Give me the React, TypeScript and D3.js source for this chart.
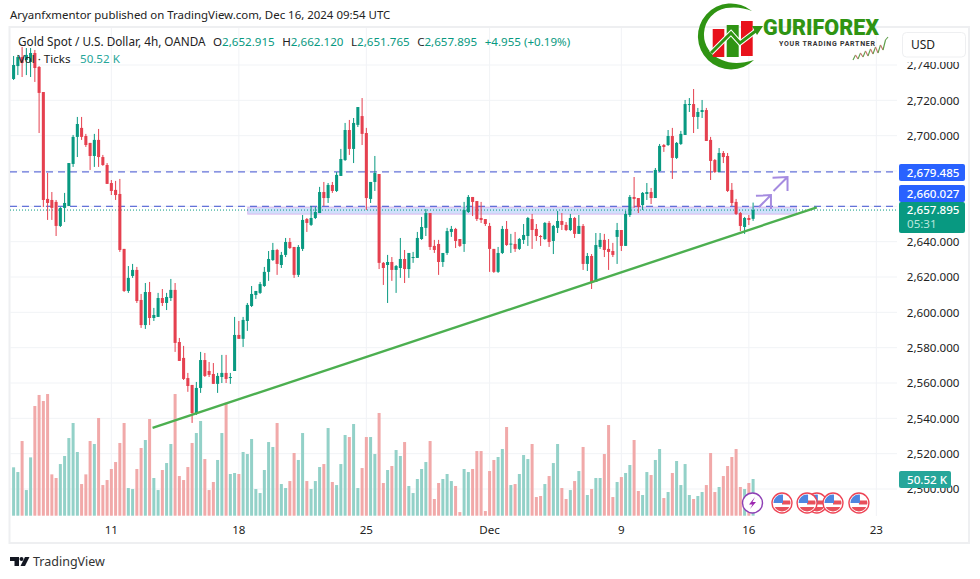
import * as d3 from "d3"

const opens = [
  2732.1,2739.4,2744.5,2742.8,2741.7,2746.8,2738.9,2724.7,2664.2,2663.6,
  2662.5,2648.9,2659.1,2660.2,2684,2699.3,2704.4,2699.8,2695.9,2688.5,
  2697.6,2687.9,2683.4,2673.2,2669.3,2667,2635.9,2612.1,2620.6,2624,
  2607,2592.8,2611.5,2596.8,2597.4,2608.1,2605.3,2608.1,2612.7,2583.2,
  2574.2,2562.8,2558.9,2543,2557.2,2573,2566.8,2565.1,2559.5,2563.4,
  2565.7,2562.8,2566.8,2587.2,2585,2595.1,2603.6,2609.8,2611,2614.9,
  2622.9,2629.6,2635.3,2626.8,2632.5,2639.8,2637,2621.2,2635.9,2652.8,
  2649.5,2653.4,2656.2,2668.1,2664.7,2672.1,2668.7,2677.2,2686.2,2703.2,
  2692.5,2706.1,2711.1,2701.5,2664.2,2673.8,2678.3,2628,2626.8,2628.5,
  2624,2625.1,2630.2,2624.5,2630.8,2630.8,2641.5,2647.8,2656.2,2637.6,
  2638.7,2628.5,2633.6,2645.5,2647.2,2641.5,2638.7,2656.8,2665.3,2663,
  2653.4,2652.8,2648.9,2635.9,2622.9,2633.6,2647.2,2638.5,2638.7,2635.9,
  2641,2643.2,2652.8,2647.2,2643.2,2641.5,2650.6,2640.4,2647.8,2651.7,
  2649.5,2646.6,2653.4,2644.4,2648.9,2627.4,2631.9,2617.2,2637,2641,
  2635.9,2634.7,2642.7,2646.6,2637.6,2655.1,2665.3,2664.7,2660.7,2667,
  2668.1,2664.7,2680,2694.7,2694.7,2699.8,2687.4,2695.3,2700.4,2717.4,
  2717.9,2710.6,2713.4,2714.5,2697.6,2686.2,2679.4,2690.2,2688.5,2669.3,
  2662.5,2656.2,2648.3,2653.4,2652.915,
]
const highs = [
  2745.1,2745.7,2750.2,2749.6,2749.6,2748.5,2739.4,2724.7,2678.9,2668.1,
  2663.6,2659.6,2667.6,2684.5,2700.4,2710.6,2710.6,2701,2695.9,2701,
  2703.8,2689.1,2684.5,2674.9,2674.4,2675.5,2635.9,2626.2,2627.4,2625.7,
  2610.4,2616.6,2617.2,2602.5,2611,2613.2,2611,2618.9,2616.6,2585.5,
  2581,2565.7,2558.9,2560.6,2577.6,2577,2571.9,2571.3,2565.7,2575.9,
  2575.9,2565.7,2597.4,2595.1,2597.4,2605.3,2614.9,2612.1,2617.2,2625.7,
  2634.7,2639.3,2635.9,2634.2,2642.1,2642.1,2637,2638.1,2655.1,2653.4,
  2660.2,2659.6,2671,2673.8,2673.2,2673.8,2679.4,2692.5,2707.2,2708.9,
  2710,2716.2,2721.3,2704.4,2673.8,2688.5,2678.3,2628.5,2632.5,2631.3,
  2626.8,2642.1,2635.3,2633.6,2634.2,2645.5,2654,2658.5,2656.2,2641,
  2641,2633.6,2647.8,2648.9,2647.8,2641.5,2662.5,2666.4,2665.3,2663,
  2662.5,2652.8,2650.6,2635.9,2637,2648.9,2651.7,2644.4,2645.5,2642.1,
  2650,2654,2655.7,2650,2643.8,2651.1,2651.7,2649.5,2657.4,2656.2,
  2651.1,2655.7,2654,2655.1,2650,2633.6,2633,2644.9,2644.9,2644.4,
  2641.5,2639.3,2650.6,2646.6,2657.4,2666.4,2676.6,2664.7,2668.1,2673.2,
  2670.4,2681.7,2695.3,2695.3,2703.2,2704.4,2696.4,2702.7,2720.2,2721.3,
  2726.4,2715.7,2720.2,2715.7,2699.3,2686.8,2693,2691.3,2690.2,2673.2,
  2664.2,2656.8,2654,2655.1,2662.12,
]
const lows = [
  2731.5,2734.3,2733.2,2734.3,2733.2,2730.4,2701.5,2659.6,2652.3,2652.3,
  2643.2,2648.3,2651.1,2660.2,2682.3,2687.9,2697.6,2693.6,2680.6,2682.3,
  2682.3,2682.9,2672.7,2666.4,2663.6,2634.2,2611.5,2611,2619.5,2605.3,
  2591.2,2590.6,2592.8,2595.1,2597.4,2603.6,2601.3,2606.4,2577.6,2572.5,
  2561.7,2555,2537.4,2541.9,2554.4,2563.4,2563.4,2559.5,2554.4,2560,
  2560,2559.5,2566.8,2585,2580.4,2589.5,2603,2607.6,2610.4,2614.4,
  2617.8,2629.1,2621.2,2625.1,2631.3,2635.9,2619.5,2620,2634.7,2645.5,
  2648.9,2652.8,2656.2,2660.2,2661.9,2667.6,2668.1,2677.2,2685.7,2689.1,
  2684.5,2704.9,2694.7,2657.9,2661.9,2668.7,2624.5,2615.5,2605.3,2617.8,
  2611,2619.5,2616.6,2619.5,2628,2630.8,2641,2643.2,2635.3,2633.6,
  2621.2,2625.7,2632.5,2642.7,2636.4,2637,2634.2,2656.2,2654.5,2651.7,
  2650.6,2648.9,2622.9,2622.3,2622.3,2633,2637.6,2633.6,2634.2,2635.3,
  2638.7,2637.6,2635.9,2640.4,2637.6,2641,2637,2633,2644.9,2646.6,
  2646,2646,2642.1,2644.4,2624,2623.4,2613.2,2617.2,2635.9,2631.3,
  2624,2631.3,2627.4,2634.7,2637.6,2654,2659.1,2656.2,2657.9,2663.6,
  2661.3,2664.7,2679.4,2690.8,2694.2,2675.5,2686.8,2694.7,2700.4,2713.4,
  2701.5,2703.8,2710,2697,2674.9,2678.9,2679.4,2684.5,2668.1,2660.2,
  2655.1,2646,2644.4,2649.4,2651.765,
]
const closes = [
  2740,2744.5,2741.1,2745.7,2746.8,2738.3,2724.2,2663.6,2661.9,2659.1,
  2648.9,2659.1,2661.9,2684.5,2699.3,2706.6,2699.3,2694.7,2688.5,2697.6,
  2687.9,2683.4,2672.7,2668.7,2666.4,2635.3,2612.1,2619.5,2624,2606.4,
  2592.8,2611.5,2596.8,2598.5,2608.1,2605.3,2608.7,2612.7,2582.7,2572.5,
  2562.3,2558.3,2543,2557.2,2573,2564,2564.6,2559.5,2564,2565.7,
  2562.3,2563.4,2587.2,2585,2595.7,2604.2,2610.4,2612.1,2616,2622.9,
  2630.2,2635.3,2627.4,2632.5,2639.8,2636.4,2621.2,2637,2652.3,2650.6,
  2653.4,2656.8,2668.1,2664.7,2672.1,2668.7,2677.8,2686.8,2703.2,2692.5,
  2707.2,2716.2,2701,2664.7,2673.8,2678.9,2628,2625.1,2628.5,2624,
  2626.2,2630.2,2624.5,2633.6,2631.3,2642.1,2648.3,2656.2,2637,2635.3,
  2628.5,2633.6,2646,2647.2,2640.4,2637.6,2657.9,2665.3,2662.5,2652.8,
  2652.3,2650,2635.9,2622.9,2633.6,2647.2,2638.1,2638.9,2635.9,2641.5,
  2643.8,2653.4,2646.6,2643.2,2642.7,2650.6,2639.8,2648.9,2651.7,2649.5,
  2646.6,2653.4,2644.4,2648.9,2627.4,2631.9,2616.6,2638.1,2641,2635.3,
  2634.2,2632.5,2646.6,2637.6,2655.7,2665.3,2664.2,2659.6,2667.6,2668.1,
  2664.7,2680.6,2694.2,2693.6,2699.8,2687.4,2695.9,2701,2717.9,2717.9,
  2710.6,2713.4,2714.5,2697,2685.7,2679.4,2690.2,2687.9,2668.7,2661.9,
  2655.7,2648.9,2653.4,2652.3,2657.895,
]
// volume in thousands of ticks
const volumes = [
  66.6,60.1,102.8,35.3,80.3,151,166.2,157.9,167.5,56.9,
  51.9,71.1,82.2,106.9,127.6,87.7,43.6,56.9,102.8,98.7,
  134.5,42.2,49.1,64.3,73.9,100.1,127.6,38.1,36.7,64.3,
  93.2,104.2,133.1,51.9,35.3,62.9,72.5,98.7,167.5,54.6,
  49.1,67,100.1,113.8,130.4,78,35.3,46.4,76.7,113.8,
  155.6,57.4,58.8,57.4,87.7,84.9,105.6,36.7,31.2,62.9,
  101.4,94.6,127.6,43.6,38.1,47.7,86.3,76.7,113.8,47.7,
  36.7,47.7,67,71.1,120.7,46.4,42.2,71.1,111.1,108.3,
  126.2,38.1,65.6,108.3,108.3,84.9,141.4,45,62.9,68.4,
  90.4,82.2,101.4,40.9,31.2,50.5,64.3,73.9,102.8,23,
  45,50.5,57.4,47.7,40.9,5,64.3,60.1,64.3,89,
  89,6.4,61.5,76.7,80.8,91.8,122.1,42.2,43.6,57.4,
  83.5,78,98.7,25.7,27.1,43.6,54.6,72.5,98.7,38.1,
  23,35.3,47.7,61.5,94.6,28.5,36.7,51.9,51.9,84.9,
  124.8,25.7,46.4,53.2,58.8,69.8,104.2,34,28.5,60.1,
  56,76.7,91.8,24.3,32.6,58.8,75.3,42.2,71.1,28.5,
  23,27.1,32.6,42.2,86.3,32.6,39.5,54.6,68.4,80.8,
  91.8,39.5,36.7,45,50.52,
]

const priceTicks = [2740, 2720, 2700, 2680, 2660, 2640, 2620, 2600, 2580, 2560, 2540, 2520, 2500]
// 2680 and 2660 sit fully behind the level badges in the reference
const hiddenPriceLabels = [2680, 2660]
const timeTickBars = [23, 53, 83, 112, 143, 173, 203]
const timeTickLabels = ["11", "18", "25", "Dec", "9", "16", "23"]

const upperLevel = 2679.485
const lowerLevel = 2660.027
const lastPrice = 2657.895
const zoneBars = [55.1, 184.2]
const zonePrices = [2659.5, 2655.6]
const trendBars = [32.7, 189]
const trendPrices = [2534.6, 2659.4]
const arrowOneBars = [175.4, 178.2]
const arrowOnePrices = [2659.6, 2666.4]
const arrowTwoBars = [178.8, 182.1]
const arrowTwoPrices = [2668.7, 2676.6]
const flagBars = [189, 180.8, 186.7, 192.8, 198.9]
const sparkValues = [2, 7, 3, 9, 5, 11, 6, 13, 8, 15, 9, 17, 12, 22, 25]

const FONT = "'Noto Sans', sans-serif"
const UP = "#089981"
const DOWN = "#e5404f"
const UP_VOL = "#93d1c8"
const DOWN_VOL = "#f1a9a9"
const GRID = "#f1f3f6"
const LOGO_GREEN = "#2f9413"

const x = d3.scaleLinear().domain([0, 174]).range([13.6, 753.1])
const y = d3.scaleLinear().domain([2500, 2740]).range([489, 65])
const yVol = d3.scaleLinear().domain([0, 170]).range([515.7, 392.2])
const priceFmt = d3.format(",.3f")

function UsFlag({ cx, id }: { cx: number; id: string }) {
  const cy = 503
  return (
    <g>
      <clipPath id={id}>
        <circle cx={cx} cy={cy} r={8.5} />
      </clipPath>
      <circle cx={cx} cy={cy} r={10} fill="#fff" stroke="#ee4455" strokeWidth={1.4} />
      <g clipPath={`url(#${id})`}>
        <rect x={cx - 9} y={cy - 9} width={18} height={18} fill="#fff" />
        <rect x={cx} y={cy - 2.5} width={9} height={4} fill="#e8505b" />
        <rect x={cx - 9} y={cy + 4} width={18} height={6} fill="#e8505b" />
        <rect x={cx - 9} y={cy - 9} width={10} height={9} fill="#4f86e0" />
      </g>
    </g>
  )
}

function Logo() {
  return (
    <g>
      <path
        d="M752,11 A33,33 0 1 0 754,60 Q735,66 722,60 A27,27 0 0 1 726,8 Q740,6 752,11 Z"
        fill={LOGO_GREEN}
      />
      <rect x={712.7} y={29} width={11.6} height={28} fill="#e8121b" />
      <rect x={726.7} y={25} width={12} height={32} fill={LOGO_GREEN} />
      <rect x={741} y={21} width={11.7} height={35} fill="#e8121b" />
      <path d="M711,53 L731,33 L740,43 L757,30" fill="none" stroke="#fff" strokeWidth={5} />
      <path d="M711,53 L731,33 L740,43 L757,30" fill="none" stroke={LOGO_GREEN} strokeWidth={3} />
      <path d="M752,26 L763,26 L757,35 Z" fill={LOGO_GREEN} />
      <text
        x={763}
        y={35}
        fontFamily="Roboto, sans-serif"
        fontWeight={900}
        fontSize={22}
        textLength={116}
        lengthAdjust="spacingAndGlyphs"
        fill={LOGO_GREEN}
      >
        GURIFOREX
      </text>
      <text
        x={779}
        y={46}
        fontFamily="Roboto, sans-serif"
        fontWeight={700}
        fontSize={7}
        textLength={96}
        fill="#333"
      >
        YOUR TRADING PARTNER
      </text>
      {sparkValues.slice(1).map((v, i) => (
        <line
          key={i}
          x1={853 + i * 2.5}
          x2={853 + (i + 1) * 2.5}
          y1={62 - sparkValues[i]}
          y2={62 - v}
          stroke={v > sparkValues[i] ? "#5f9e4a" : "#c9706a"}
          strokeWidth={1.1}
        />
      ))}
    </g>
  )
}

function App() {
  const w = x(1) - x(0)
  return (
    <svg
      width={980}
      height={579}
      style={{ position: "absolute", left: 0, top: 0, display: "block", background: "#fff" }}
      fontFamily={FONT}
    >
      {/* pane frame */}
      <rect x={9.5} y={27} width={959.5} height={516} fill="none" stroke="#eeeff1" strokeWidth={2} />

      {/* grid */}
      {priceTicks.map((p) => (
        <line key={p} x1={10} x2={897} y1={y(p)} y2={y(p)} stroke={GRID} />
      ))}
      {timeTickBars.map((b) => (
        <line key={b} x1={x(b)} x2={x(b)} y1={28} y2={516} stroke={GRID} />
      ))}

      {/* volume */}
      {volumes.map((v, i) => (
        <rect
          key={i}
          x={x(i) - 1.5}
          y={yVol(v)}
          width={3}
          height={yVol(0) - yVol(v)}
          fill={closes[i] >= opens[i] ? UP_VOL : DOWN_VOL}
        />
      ))}

      {/* zone behind the candles */}
      <rect
        x={x(zoneBars[0])}
        y={y(zonePrices[0])}
        width={x(zoneBars[1]) - x(zoneBars[0])}
        height={y(zonePrices[1]) - y(zonePrices[0])}
        fill="#cfe0fb"
        stroke="#dcb8ee"
      />

      {/* levels */}
      <line x1={10} x2={898} y1={y(upperLevel)} y2={y(upperLevel)} stroke="#3d4fd0" strokeDasharray="7 5" />
      <line x1={10} x2={898} y1={y(lowerLevel)} y2={y(lowerLevel)} stroke="#3d4fd0" strokeDasharray="7 5" />
      <line x1={10} x2={898} y1={y(lastPrice)} y2={y(lastPrice)} stroke={UP} strokeDasharray="1 2" />

      {/* candles */}
      {opens.map((o, i) => {
        const c = closes[i]
        const col = c >= o ? UP : DOWN
        const top = y(Math.max(o, c))
        const h = Math.max(y(Math.min(o, c)) - top, 1)
        return (
          <g key={i}>
            <line x1={x(i)} x2={x(i)} y1={y(highs[i])} y2={y(lows[i])} stroke={col} />
            <rect x={x(i) - w / 2 + 0.6} y={top} width={w - 1.2} height={h} fill={col} />
          </g>
        )
      })}

      {/* trend line and arrows */}
      <line
        x1={x(trendBars[0])}
        x2={x(trendBars[1])}
        y1={y(trendPrices[0])}
        y2={y(trendPrices[1])}
        stroke="#4caf50"
        strokeWidth={2.4}
      />
      {[
        [arrowOneBars, arrowOnePrices],
        [arrowTwoBars, arrowTwoPrices],
      ].map(([b, p], i) => {
        const ex = x(b[1])
        const ey = y(p[1])
        return (
          <path
            key={i}
            d={`M${x(b[0])},${y(p[0])} L${ex},${ey} M${ex - 15},${ey + 0.8} L${ex},${ey} L${ex},${ey + 14}`}
            fill="none"
            stroke="#a58be0"
            strokeWidth={2}
          />
        )
      })}

      {/* price axis */}
      {priceTicks
        .filter((p) => !hiddenPriceLabels.includes(p))
        .map((p) => (
          <text key={p} x={959.5} y={y(p) + 4.3} textAnchor="end" fontSize={11.6} fill="#222">
            {priceFmt(p)}
          </text>
        ))}
      <rect x={900} y={28} width={68} height={34} fill="#fff" />
      <rect x={902.5} y={32.5} width={63} height={24.5} rx={4} fill="#fff" stroke="#eeeff1" />
      <text x={911} y={49} fontSize={12} fill="#222">
        USD
      </text>

      {/* badges */}
      <rect x={899} y={164} width={66} height={17} rx={2} fill="#2962ff" />
      <text x={959.5} y={176.6} textAnchor="end" fontSize={11.6} fontWeight={500} fill="#fff">
        {priceFmt(upperLevel)}
      </text>
      <rect x={899} y={185} width={66} height={17} rx={2} fill="#2962ff" />
      <text x={959.5} y={197.6} textAnchor="end" fontSize={11.6} fontWeight={500} fill="#fff">
        {priceFmt(lowerLevel)}
      </text>
      <rect x={899} y={202} width={66} height={31} rx={2} fill={UP} />
      <text x={959.5} y={214.4} textAnchor="end" fontSize={11.6} fontWeight={500} fill="#fff">
        {priceFmt(lastPrice)}
      </text>
      <text x={907} y={228} fontSize={11.6} fill="#b9e6dc">
        05:31
      </text>
      <rect x={899} y={471} width={52} height={17} rx={2} fill="#26a69a" />
      <text x={907} y={483.6} fontSize={11.6} fontWeight={500} fill="#fff">
        50.52 K
      </text>

      {/* time axis */}
      {timeTickBars.map((b, i) => (
        <text key={b} x={x(b)} y={534} textAnchor="middle" fontSize={11.6} fill="#222">
          {timeTickLabels[i]}
        </text>
      ))}

      {/* events */}
      <circle cx={752.5} cy={503} r={10} fill="#fff" stroke="#8e3fb5" strokeWidth={1.4} />
      <path d="M755,497 L749,504.5 L752.5,504.5 L750,509 L756,502 L752.5,502 Z" fill="#9c27b0" />
      {flagBars.map((b, k) => (
        <UsFlag key={k} cx={x(b)} id={`flag-${k}`} />
      ))}

      {/* legend */}
      <text x={10} y={19} fontSize={11.45} fill="#222">
        Aryanfxmentor published on TradingView.com, Dec 16, 2024 09:54 UTC
      </text>
      <text x={18} y={46} fontSize={11.75} fill="#222">
        Gold Spot / U.S. Dollar, 4h, OANDA
      </text>
      <text x={213} y={46} fontSize={11.6} fill="#222">
        O<tspan fill={UP}>2,652.915</tspan>
        <tspan dx={7.5}>H</tspan>
        <tspan fill={UP}>2,662.120</tspan>
        <tspan dx={7.5}>L</tspan>
        <tspan fill={UP}>2,651.765</tspan>
        <tspan dx={7.5}>C</tspan>
        <tspan fill={UP}>2,657.895</tspan>
        <tspan dx={7.5} fill={UP}>
          +4.955 (+0.19%)
        </tspan>
      </text>
      <text x={18} y={63} fontSize={11.6} fill="#222">
        Vol · Ticks
      </text>
      <text x={80} y={63} fontSize={11.6} fill="#26a69a">
        50.52 K
      </text>

      <Logo />

      {/* footer */}
      <path d="M10,557 H19 V566 H14.5 V561 H10 Z" fill="#131722" />
      <circle cx={21.5} cy={559} r={2} fill="#131722" />
      <path d="M25,557 H29.5 L25,566 H20.5 Z" fill="#131722" />
      <text x={33} y={566} fontSize={12.5} fill="#333">
        TradingView
      </text>
    </svg>
  )
}

export default App
